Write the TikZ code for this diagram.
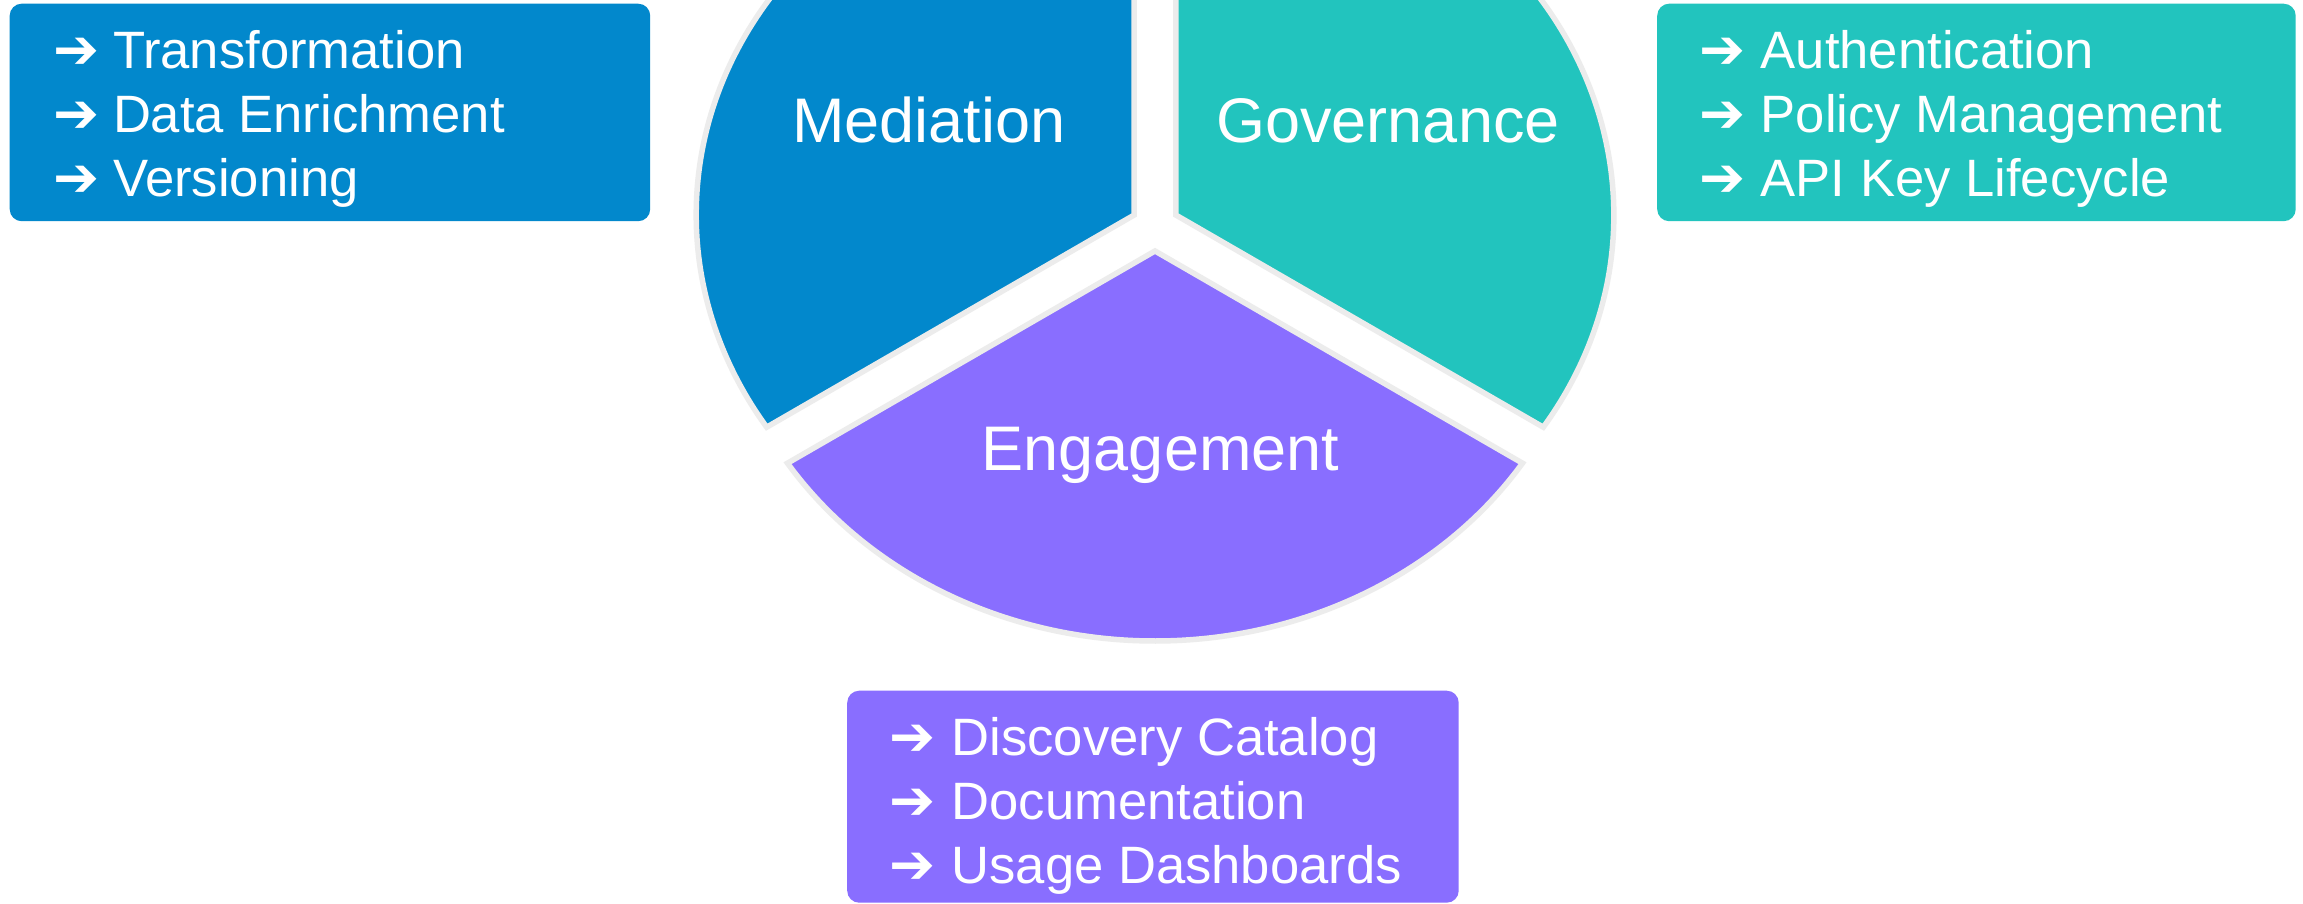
\documentclass[tikz,border=0pt]{standalone}
\usepackage{fontspec}
\setmainfont{Liberation Sans}
\newfontfamily\arrowfont{DejaVu Sans}
\definecolor{medblue}{RGB}{2,136,204}
\definecolor{govteal}{RGB}{34,196,190}
\definecolor{engpurple}{RGB}{137,110,255}
\definecolor{rimgray}{RGB}{236,236,236}
\begin{document}
\begin{tikzpicture}[x=1pt,y=1pt,
  slice/.style={draw=rimgray, line width=5.5pt},
  panel/.style={rounded corners=12pt, inner sep=0pt, anchor=north west},
  itemtext/.style={anchor=base west, inner sep=0pt, text=white, font=\fontsize{52.6}{60}\selectfont},
  arrowmark/.style={anchor=base west, inner sep=0pt, text=white, font=\arrowfont\fontsize{55}{58}\selectfont},
  slicelabel/.style={anchor=base, inner sep=0pt, text=white, font=\fontsize{63}{70}\selectfont}]
\useasboundingbox (0,0) rectangle (2303,-904);
\clip (0,0) rectangle (2303,-904);
\fill[white] (0,0) rectangle (2303,-904);

% pie slices
\coordinate (M0) at (1134.2,-215);
\coordinate (G0) at (1175.8,-215);
\coordinate (E0) at (1155,-251);
\path[slice, fill=medblue] (M0) -- ++(0,390)
  arc[start angle=90, end angle=212.96, x radius=438pt, y radius=390pt] -- cycle;
\path[slice, fill=govteal] (G0) -- ++(367.5,-212.18)
  arc[start angle=-32.96, end angle=90, x radius=438pt, y radius=390pt] -- cycle;
\path[slice, fill=engpurple] (E0) -- ++(-367.5,-212.18)
  arc[start angle=212.96, end angle=327.04, x radius=438pt, y radius=390pt] -- cycle;

\node[slicelabel] (medlabel) at (929,-143) {Mediation};
\node[slicelabel] (govlabel) at (1388,-143) {Governance};
\node[slicelabel] (englabel) at (1160.5,-470) {Engagement};

% panels
\node[panel, fill=medblue, minimum width=640.5pt, minimum height=217.5pt] (medbox) at (9.5,-3.5) {};
\node[panel, fill=govteal, minimum width=638.5pt, minimum height=217.5pt] (govbox) at (1657,-3.5) {};
\node[panel, fill=engpurple, minimum width=611.5pt, minimum height=212pt] (engbox) at (847,-690.5) {};

% Mediation items
\node[arrowmark] (ma1) at (53,-68.3) {➔};
\node[itemtext] (mt1) at (112.8,-68.3) {Transformation};
\node[arrowmark] (ma2) at (53,-132.5) {➔};
\node[itemtext] (mt2) at (112.8,-132.5) {Data Enrichment};
\node[arrowmark] (ma3) at (53,-196.7) {➔};
\node[itemtext] (mt3) at (112.8,-196.7) {Versioning};

% Governance items
\node[arrowmark] (ga1) at (1699,-68.3) {➔};
\node[itemtext] (gt1) at (1760.5,-68.3) {Authentication};
\node[arrowmark] (ga2) at (1699,-132.5) {➔};
\node[itemtext] (gt2) at (1760.5,-132.5) {Policy Management};
\node[arrowmark] (ga3) at (1699,-196.7) {➔};
\node[itemtext] (gt3) at (1760.5,-196.7) {API Key Lifecycle};

% Engagement items
\node[arrowmark] (ea1) at (889,-755) {➔};
\node[itemtext] (et1) at (951.4,-755) {Discovery Catalog};
\node[arrowmark] (ea2) at (889,-819) {➔};
\node[itemtext] (et2) at (951.4,-819) {Documentation};
\node[arrowmark] (ea3) at (889,-883.3) {➔};
\node[itemtext] (et3) at (951.4,-883.3) {Usage Dashboards};
\end{tikzpicture}
\end{document}
